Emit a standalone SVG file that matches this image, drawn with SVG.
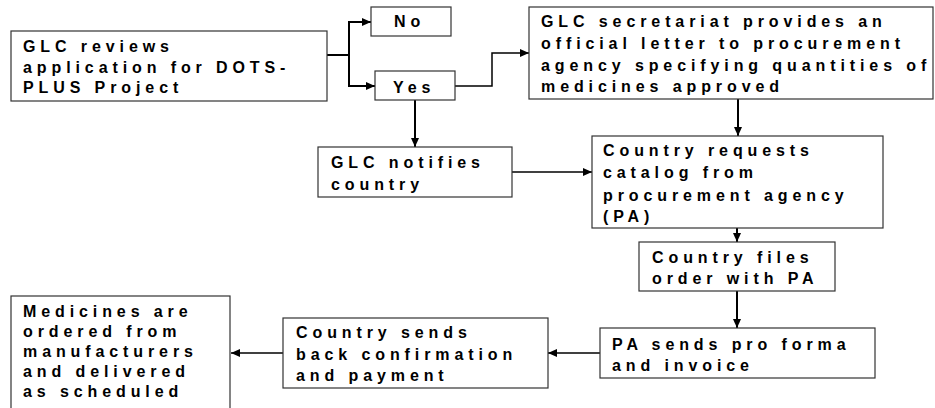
<svg xmlns="http://www.w3.org/2000/svg" width="935" height="408" viewBox="0 0 935 408">
<defs>
<marker id="ah" markerUnits="userSpaceOnUse" markerWidth="10" markerHeight="8" refX="9" refY="4" orient="auto">
<path d="M0,0 L9,4 L0,8 Z" fill="#000"/>
</marker>
<style>
.box{fill:#fff;stroke:#333;stroke-width:1.2}
.t{font-family:"Liberation Sans",Arial,sans-serif;font-weight:bold;font-size:16px;letter-spacing:4.9px;fill:#000}
.c{fill:none;stroke:#000;stroke-width:1.5;marker-end:url(#ah)}
.v{stroke-width:2}
</style>
</defs>
<rect width="935" height="408" fill="#fff"/>
<g id="connectors">
<path class="c v" d="M327,55 H349 V22 H371"/>
<path class="c v" d="M349,55 V86 H375"/>
<path class="c" d="M455,86 H492 V53 H529"/>
<path class="c v" d="M415,100 V147"/>
<path class="c" d="M512,172 H592"/>
<path class="c v" d="M738,99 V136"/>
<path class="c v" d="M737,207 V242"/>
<path class="c v" d="M737,291 V328"/>
<path class="c" d="M600,353 H548"/>
<path class="c" d="M283,353 H231"/>
</g>
<g id="review">
<rect class="box" x="11" y="31" width="316" height="70"/>
<text class="t"><tspan x="23" y="52">GLC reviews</tspan><tspan x="23" y="73">application for DOTS-</tspan><tspan x="23" y="93">PLUS Project</tspan></text>
</g>
<g id="no">
<rect class="box" x="371" y="7" width="80" height="29"/>
<text class="t" x="394" y="27">No</text>
</g>
<g id="yes">
<rect class="box" x="375" y="71" width="80" height="29"/>
<text class="t" x="393" y="93">Yes</text>
</g>
<g id="secretariat">
<rect class="box" x="529" y="7" width="404" height="92"/>
<text class="t"><tspan x="541" y="27">GLC secretariat provides an</tspan><tspan x="541" y="49">official letter to procurement</tspan><tspan x="541" y="71">agency specifying quantities of</tspan><tspan x="541" y="92">medicines approved</tspan></text>
</g>
<g id="notifies">
<rect class="box" x="318" y="147" width="194" height="50"/>
<text class="t"><tspan x="331" y="168">GLC notifies</tspan><tspan x="331" y="190">country</tspan></text>
</g>
<g id="catalog">
<rect class="box" x="592" y="136" width="291" height="92"/>
<text class="t"><tspan x="603" y="156">Country requests</tspan><tspan x="603" y="178">catalog from</tspan><tspan x="603" y="201">procurement agency</tspan><tspan x="603" y="222">(PA)</tspan></text>
</g>
<g id="files">
<rect class="box" x="639" y="242" width="196" height="49"/>
<text class="t"><tspan x="652" y="263">Country files</tspan><tspan x="652" y="284">order with PA</tspan></text>
</g>
<g id="proforma">
<rect class="box" x="600" y="328" width="275" height="50"/>
<text class="t"><tspan x="612" y="350">PA sends pro forma</tspan><tspan x="612" y="371">and invoice</tspan></text>
</g>
<g id="confirm">
<rect class="box" x="283" y="318" width="265" height="70"/>
<text class="t"><tspan x="296" y="338">Country sends</tspan><tspan x="296" y="360">back confirmation</tspan><tspan x="296" y="381">and payment</tspan></text>
</g>
<g id="medicines">
<rect class="box" x="11" y="296" width="219" height="114"/>
<text class="t"><tspan x="23" y="317">Medicines are</tspan><tspan x="23" y="337">ordered from</tspan><tspan x="23" y="357">manufacturers</tspan><tspan x="23" y="377">and delivered</tspan><tspan x="23" y="397">as scheduled</tspan></text>
</g>
</svg>
